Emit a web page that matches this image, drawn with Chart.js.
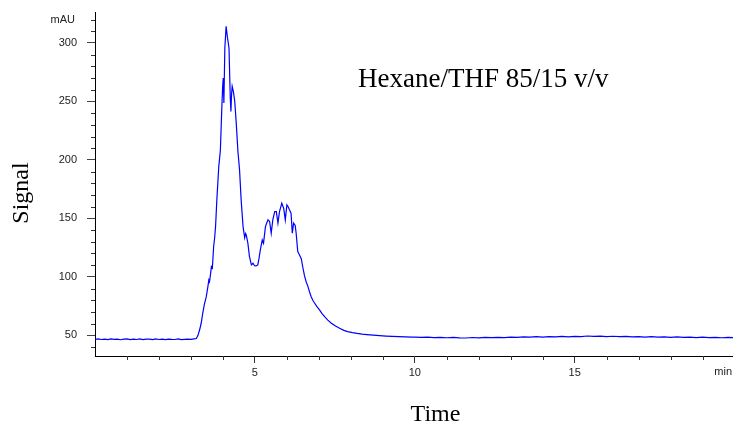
<!DOCTYPE html>
<html><head><meta charset="utf-8">
<script src="https://cdn.jsdelivr.net/npm/chart.js@4.4.1/dist/chart.umd.min.js"></script>
<style>html,body{margin:0;padding:0;background:#fff;}#wrap{width:733px;height:428px;position:relative;}</style>
</head><body><div id="wrap"><canvas id="c"></canvas></div>
<script>
const timeMin = [
0.0,0.1,0.2,0.3,0.4,0.5,0.6,0.7,0.8,0.9,1.0,1.1,1.2,1.3,1.4,1.5,1.6,1.7,1.8,1.9,2.0,2.1,2.2,2.3,2.4,2.5,2.6,2.7,2.8,2.9,3.0,3.1,3.17,
3.22,3.27,3.32,3.37,3.42,3.48,3.53,3.56,3.58,3.60,3.64,3.67,3.71,3.74,3.77,3.81,3.87,3.92,3.96,3.99,4.01,4.03,4.06,4.10,4.14,4.19,4.23,4.25,4.27,4.29,4.33,4.37,4.42,4.47,4.52,4.57,4.63,4.68,4.71,4.73,4.78,4.83,4.89,4.94,4.99,5.04,5.09,5.13,5.17,5.23,5.27,5.33,5.37,5.41,5.46,5.51,5.56,5.62,5.67,5.72,5.77,5.84,5.90,5.95,6.00,6.04,6.08,6.13,6.17,6.21,6.26,6.29,6.34,6.38,6.45,6.50,6.55,6.60,6.66,6.71,6.76,6.81,6.87,6.94,7.02,7.10,7.18,7.28,7.39,7.52,7.65,7.78,7.90,8.05,8.20,8.35,8.50,8.70,8.90,9.10,9.30,9.50,9.70,9.90,
10.0,10.2,10.4,10.6,10.8,11.0,11.2,11.4,11.6,11.8,12.0,12.2,12.4,12.6,12.8,13.0,13.2,13.4,13.6,13.8,14.0,14.2,14.4,14.6,14.8,15.0,15.2,15.4,15.6,15.8,16.0,16.2,16.4,16.6,16.8,17.0,17.2,17.4,17.6,17.8,18.0,18.2,18.4,18.6,18.8,19.0,19.2,19.4,19.6,19.8,20.0
];
const signalMAU = [
46.5,46.9,46.4,46.8,46.3,46.9,46.5,46.8,46.2,46.7,46.9,46.3,46.8,46.4,46.9,46.3,46.7,46.8,46.3,46.9,46.4,46.7,46.3,46.8,46.5,46.4,46.9,46.3,46.6,46.8,46.5,46.9,47.2,
50.0,54.5,60.3,69.0,76.5,83.0,91.6,97.3,96.0,99.5,108.7,107.5,125.9,133.0,143.0,165.8,194.3,208.0,240.0,262.0,270.0,248.6,295.7,314.2,305.0,295.7,252.9,241.4,256.0,262.9,258.0,250.0,230.0,207.0,191.5,165.8,143.0,133.5,137.0,135.9,128.8,117.3,110.2,111.6,109.5,109.3,110.2,116.0,123.0,131.6,128.8,143.0,146.0,148.7,147.3,137.3,148.7,155.8,155.8,145.9,155.8,163.0,158.7,148.7,161.6,160.0,157.3,154.5,137.3,145.9,144.0,137.3,121.6,119.5,115.5,108.0,101.0,96.0,91.6,87.0,83.0,80.0,77.4,74.5,71.7,68.5,65.9,63.0,60.3,57.9,56.0,54.2,53.1,52.3,51.6,51.0,50.6,50.1,49.7,49.3,49.0,48.8,48.6,48.5,
48.4,48.2,48.5,48.1,48.3,47.9,48.2,47.8,47.7,48.1,47.8,48.2,48.0,48.3,48.1,48.5,48.2,48.6,48.4,48.8,48.5,48.9,48.6,49.0,48.7,49.1,48.8,49.4,49.0,49.3,48.9,49.2,48.8,49.1,48.7,48.9,48.5,48.8,48.4,48.7,48.3,48.6,48.2,48.5,48.1,48.4,48.0,48.3,47.9,48.2,48.0
];
const xMajorLabels = [5, 10, 15];
const yMajorLabels = [50, 100, 150, 200, 250, 300];
const chartTitle = 'Hexane/THF 85/15 v/v';
const xAxisTitle = 'Time';
const yAxisTitle = 'Signal';
const xUnit = 'min';
const yUnit = 'mAU';

const tickFont = {family: '"Liberation Sans", Arial, sans-serif', size: 11};

const annotPlugin = {
  id: 'annot',
  afterDraw(chart) {
    const ctx = chart.ctx;
    const xs = chart.scales.x, ys = chart.scales.y;
    ctx.save();
    ctx.strokeStyle = '#333';
    ctx.lineWidth = 1;
    ys.ticks.forEach(t => {
      if (!yMajorLabels.includes(t.value)) {
        const p = Math.round(ys.getPixelForValue(t.value)) + 0.5;
        ctx.beginPath(); ctx.moveTo(ys.right - 4, p); ctx.lineTo(ys.right, p); ctx.stroke();
      }
    });
    xs.ticks.forEach(t => {
      if (!xMajorLabels.includes(t.value) && t.value > 0) {
        const p = Math.round(xs.getPixelForValue(t.value)) + 0.5;
        ctx.beginPath(); ctx.moveTo(p, xs.top); ctx.lineTo(p, xs.top + 4); ctx.stroke();
      }
    });
    ctx.fillStyle = '#222';
    ctx.font = '11px "Liberation Sans", Arial, sans-serif';
    ctx.textAlign = 'right'; ctx.textBaseline = 'middle';
    ctx.fillText(yUnit, 75, 19.5);
    ctx.fillText(xUnit, 732, 371.5);
    ctx.fillStyle = '#000';
    ctx.font = '27px "Liberation Serif", "Times New Roman", serif';
    ctx.textAlign = 'left'; ctx.textBaseline = 'alphabetic';
    ctx.fillText(chartTitle, 358, 87);
    ctx.font = '24px "Liberation Serif", "Times New Roman", serif';
    ctx.textAlign = 'center';
    ctx.fillText(xAxisTitle, 435.5, 421);
    ctx.translate(28, 193);
    ctx.rotate(-Math.PI / 2);
    ctx.fillText(yAxisTitle, 0, 0);
    ctx.restore();
  }
};

new Chart(document.getElementById('c'), {
  type: 'line',
  data: {
    datasets: [{
      data: timeMin.map((t, i) => ({x: t, y: signalMAU[i]})),
      borderColor: '#0000ff',
      borderWidth: 1.2,
      pointRadius: 0,
      tension: 0,
      fill: false
    }]
  },
  options: {
    responsive: true,
    maintainAspectRatio: false,
    animation: false,
    devicePixelRatio: 1,
    layout: {padding: {top: 12, right: 0, left: 0, bottom: 0}},
    plugins: {legend: {display: false}, tooltip: {enabled: false}, title: {display: false}},
    scales: {
      x: {
        type: 'linear',
        min: 0, max: 19.95,
        afterFit: s => { s.height = 72; s.paddingLeft = 0; s.paddingRight = 0; },
        border: {display: true, color: '#000', width: 1},
        grid: {
          drawOnChartArea: false, drawTicks: true, tickLength: 7,
          tickColor: c => (c.tick && xMajorLabels.includes(c.tick.value)) ? '#333' : 'rgba(0,0,0,0)'
        },
        ticks: {
          stepSize: 1, includeBounds: false, autoSkip: false, maxRotation: 0,
          padding: 3, color: '#222', font: tickFont,
          callback: v => xMajorLabels.includes(v) ? String(v) : ''
        }
      },
      y: {
        type: 'linear',
        min: 32.3, max: 326.5,
        afterFit: s => { s.width = 95; s.paddingTop = 0; s.paddingBottom = 0; },
        border: {display: true, color: '#000', width: 1},
        grid: {
          drawOnChartArea: false, drawTicks: true, tickLength: 8,
          tickColor: c => (c.tick && yMajorLabels.includes(c.tick.value)) ? '#444' : 'rgba(0,0,0,0)'
        },
        ticks: {
          stepSize: 10, includeBounds: false, autoSkip: false,
          padding: 10, color: '#222', font: tickFont,
          callback: v => yMajorLabels.includes(v) ? String(v) : ''
        }
      }
    }
  },
  plugins: [annotPlugin]
});
</script></body></html>
